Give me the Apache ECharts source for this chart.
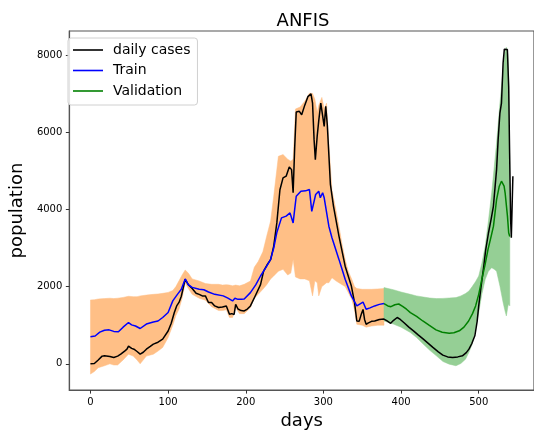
<!DOCTYPE html>
<html>
<head>
<meta charset="utf-8">
<script src="https://cdn.jsdelivr.net/npm/echarts@6/dist/echarts.min.js"></script>
<style>html,body{margin:0;padding:0;background:#fff}#c{width:534px;height:435px}</style>
</head>
<body>
<div id="c"></div>
<script>
// ---- data ----
const caseDays = [0,5,10,15,18,25,30,35,39,44,47,49,53,56,60,64,68,72,77,81,87,93,100,104,108,111,114,117,122,126,131,136,140,144,148,152,156,160,165,170,175,179,182,185,187,190,194,198,202,206,212,219,223,228,232,236,240,244,248,252,256,259,261,263,265,269,272,276,280,284,286,288,289.6,292,294,296.6,299,301,303,305,309,313,320,328,336,340,343,346,349,351,353,355,358,362,366,372,378,382,386.6,390,395,399,403.5,410,416,422,428.7,435,441,448,453.8,460,466.4,473,479,484,487.4,491,495,498,500,503,506.3,509,512.6,516,518.9,523,525,527.3,529.3,531.4,533,534.3,536.9,538.6,539.8,541.1,542,542.8,544];
const cases = [0,10,100,200,207,190,165,200,250,330,380,460,400,380,320,250,300,380,450,510,560,640,850,1050,1330,1500,1590,1750,2190,2050,1950,1830,1800,1760,1760,1590,1590,1500,1460,1470,1500,1285,1300,1280,1540,1420,1380,1370,1420,1500,1750,2050,2400,2580,2700,3050,3650,4510,4815,4860,5100,5030,4430,5600,6520,6540,6450,6700,6920,6990,6750,5800,5290,5900,6300,6750,6800,6150,6670,6190,4650,4080,3310,2530,2015,1600,1110,1100,1300,1410,1150,1025,1060,1100,1110,1150,1160,1110,1050,1120,1200,1150,1070,950,855,750,640,530,425,310,225,180,165,180,207,290,380,520,725,1100,1500,2000,2490,2950,3395,3750,4080,5030,5800,6495,6750,7790,8150,8200,8140,7180,5460,3740,3265,3300,4860];

const trainDays = [0,6,12,18,24,30,36,42,49,53,58,64,72,81,87,93,100,106,112,117,122,126,131,140,146,152,160,171,177,183,186,190,194,198,206,213,219,226,232,236,240,246,252,257,261,263,265,271,277,282,285,290,294,296,299,301,307,311,320,324,328,336,343,345,351,355,360,366,372,378];
const train = [700,720,820,870,880,840,830,950,1070,1010,980,915,1030,1085,1110,1200,1330,1630,1800,1930,2200,2050,1980,1930,1920,1860,1800,1760,1700,1630,1700,1670,1670,1680,1845,2050,2275,2500,2705,3000,3400,3780,3825,3910,3650,4000,4340,4470,4480,4515,3950,4385,4470,4300,4430,4300,3565,3265,2705,2450,2190,1760,1500,1460,1600,1415,1450,1500,1540,1560];

const valDays = [378,383,387,392,397,402,407,412,420,428,436,445,453,462,468,475,481,487,492,496,500,504,508,512,516,519,523,526.5,529.3,532.7,534,537,538.6,540];
const validation = [1560,1500,1480,1530,1550,1490,1415,1325,1230,1110,1000,880,820,795,805,855,950,1110,1300,1500,1800,2190,2550,2965,3300,3565,4255,4600,4730,4600,4430,3825,3395,3300];

const trainBandDays = [0,5,10,18,25,30,35,42,49,55,60,64,72,81,87,93,100,106,110,114,118,122,126,131,140,148,156,165,170,175,179,183,187,192,198,206,211,216,222,227,232,236,242,248,254,258,261,264,270,276,282,286,289,292,294,298,301,304,307,311,316,320,324,328,332,336.5,340,343,350,355,362,370,378];
const trainBandLow = [-265,-200,-100,-50,0,-30,-30,100,250,200,100,0,200,250,330,425,680,1000,1250,1415,1700,2100,1950,1800,1700,1650,1480,1380,1380,1400,1200,1200,1450,1300,1300,1450,1700,1800,1930,2050,2200,2275,2400,2447,2300,2350,2705,2250,2200,2200,2150,1760,2150,2100,1760,2000,2050,2100,2100,2230,2150,2100,2050,2000,1850,1670,1400,1025,1000,950,980,1000,1000];
const trainBandHigh = [1655,1660,1680,1690,1700,1690,1700,1720,1750,1740,1740,1760,1780,1800,1810,1825,1850,1900,2000,2150,2300,2430,2350,2200,2145,2080,2060,2060,2040,2050,2040,2020,2040,2020,2060,2145,2500,2650,2900,3310,3700,4340,5375,5420,5300,5250,5300,6600,6650,6800,7010,7000,6850,6500,6700,6900,6600,6750,5700,4500,4000,3565,3100,2700,2400,2190,2000,1950,1930,1930,1930,1940,1950];

const valBandDays = [378,390,400,412,420,428.7,437,445.5,454,462,470.7,477,483,487.4,491.6,496,500,504,508.4,512.5,516.7,520,523,527.3,531.4,533.5,535.6,537.7,539,540];
const valBandLow = [1110,1030,950,810,680,510,350,207,60,-8,-50,10,120,300,510,950,1330,1800,2190,2400,2490,2450,2400,2015,1590,1400,1240,1500,1550,1500];
const valBandHigh = [1975,1920,1860,1800,1760,1730,1705,1690,1695,1705,1715,1760,1820,1885,2000,2130,2275,2600,3050,3700,4430,5100,5720,6750,7615,8040,8200,8000,7000,5000];

const xTicks = [0,100,200,300,400,500];
const yTicks = [0,2000,4000,6000,8000];

// ---- chart ----
const pairs = (xs, ys) => xs.map((x, i) => [x, ys[i]]);

function bandSeries(days, low, high, color) {
  return {
    type: 'custom',
    silent: true,
    z: 1,
    data: [[days[0], low[0]]],
    renderItem: function (params, api) {
      const pts = [];
      for (let i = 0; i < days.length; i++) pts.push(api.coord([days[i], high[i]]));
      for (let i = days.length - 1; i >= 0; i--) pts.push(api.coord([days[i], low[i]]));
      return { type: 'polygon', shape: { points: pts }, style: { fill: color, stroke: color, lineWidth: 0.5 } };
    }
  };
}

const chart = echarts.init(document.getElementById('c'));
const font = 'DejaVu Sans';
const plain = v => String(v);
chart.setOption({
  animation: false,
  backgroundColor: '#fff',
  textStyle: { fontFamily: font },
  title: {
    text: 'ANFIS', left: 298, top: 7, textAlign: 'center',
    textStyle: { fontFamily: font, fontSize: 18, fontWeight: 'normal', color: '#000' }
  },
  grid: { left: 61, top: 31, width: 476, height: 360, show: true, borderColor: '#555', borderWidth: 1.2, backgroundColor: 'transparent' },
  legend: {
    orient: 'vertical', left: 68, top: 38,
    padding: [5, 7, 7, 5], itemGap: 6.5, itemWidth: 30, itemHeight: 1.6,
    icon: 'rect',
    backgroundColor: 'rgba(255,255,255,0.85)', borderColor: '#d0d0d0', borderWidth: 1, borderRadius: 3,
    textStyle: { fontFamily: font, fontSize: 14, color: '#000', padding: [0, 0, 0, 5], lineHeight: 14 },
    data: ['daily cases', 'Train', 'Validation']
  },
  xAxis: {
    type: 'value', min: -27.2, max: 571.2,
    name: 'days', nameLocation: 'middle', nameGap: 19,
    nameTextStyle: { fontFamily: font, fontSize: 18, color: '#000' },
    splitLine: { show: false },
    axisLine: { show: true, onZero: false, lineStyle: { color: '#555', width: 1.2 } },
    axisTick: { show: true, length: 3.5, customValues: xTicks, lineStyle: { color: '#333' } },
    axisLabel: { customValues: xTicks, formatter: plain, fontSize: 10, color: '#000', margin: 7, fontFamily: font }
  },
  yAxis: {
    type: 'value', min: -680, max: 8620,
    name: 'population', nameLocation: 'middle', nameGap: 34, nameRotate: 90,
    nameTextStyle: { fontFamily: font, fontSize: 18, color: '#000' },
    splitLine: { show: false },
    axisLine: { show: true, onZero: false, lineStyle: { color: '#555', width: 1.2 } },
    axisTick: { show: true, length: 3.5, customValues: yTicks, lineStyle: { color: '#333' } },
    axisLabel: { customValues: yTicks, formatter: plain, fontSize: 10, color: '#000', margin: 7, fontFamily: font }
  },
  series: [
    bandSeries(trainBandDays, trainBandLow, trainBandHigh, '#ffbf86'),
    bandSeries(valBandDays, valBandLow, valBandHigh, '#95cf95'),
    { name: 'daily cases', type: 'line', z: 3, symbol: 'none', data: pairs(caseDays, cases), lineStyle: { color: '#000', width: 1.5 }, itemStyle: { color: '#000' } },
    { name: 'Train', type: 'line', z: 4, symbol: 'none', data: pairs(trainDays, train), lineStyle: { color: '#0000ff', width: 1.5 }, itemStyle: { color: '#0000ff' } },
    { name: 'Validation', type: 'line', z: 4, symbol: 'none', data: pairs(valDays, validation), lineStyle: { color: '#008000', width: 1.5 }, itemStyle: { color: '#008000' } }
  ]
});
</script>
</body>
</html>
